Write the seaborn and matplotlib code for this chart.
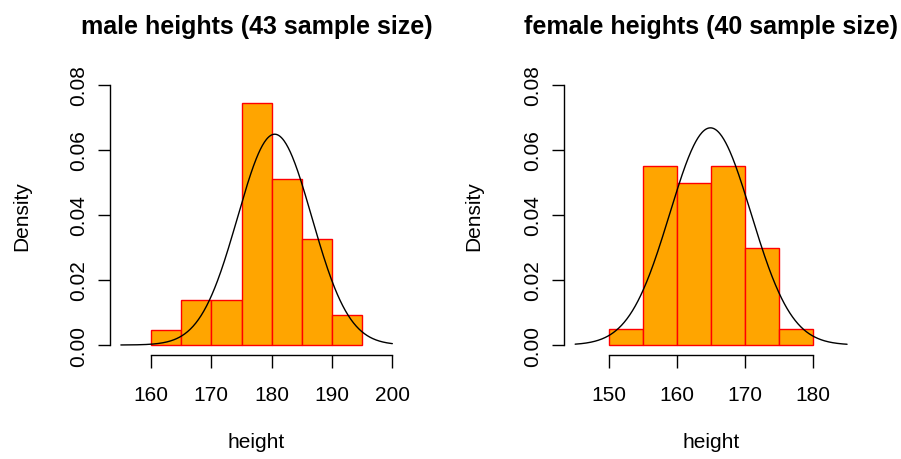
import numpy as np
import matplotlib
matplotlib.use("Agg")
import matplotlib.pyplot as plt
import seaborn as sns

sns.set_style("ticks")
plt.rcParams["font.family"] = ["Liberation Sans", "DejaVu Sans"]
plt.rcParams["text.color"] = "black"
plt.rcParams["axes.labelcolor"] = "black"
plt.rcParams["xtick.color"] = "black"
plt.rcParams["ytick.color"] = "black"

# histogram bins (width 5) and counts
male_edges = [160, 165, 170, 175, 180, 185, 190, 195]
male_counts = [1, 3, 3, 16, 11, 7, 2]
female_edges = [150, 155, 160, 165, 170, 175, 180]
female_counts = [1, 11, 10, 11, 6, 1]

# fitted normal curve parameters
male_mean, male_sd = 180.5, 6.15
female_mean, female_sd = 164.9, 5.97
male_curve_range = (155, 200)
female_curve_range = (145, 185)

male_xticks = [160, 170, 180, 190, 200]
female_xticks = [150, 160, 170, 180]
yticks = [0.00, 0.02, 0.04, 0.06, 0.08]

FS = 15


def draw_panel(ax, edges, counts, mean, sd, curve_range, xticks, title):
    centers = [(a + b) / 2 for a, b in zip(edges[:-1], edges[1:])]
    sns.histplot(
        x=centers,
        weights=counts,
        bins=edges,
        stat="density",
        color="orange",
        edgecolor="red",
        linewidth=1.0,
        alpha=1,
        ax=ax,
    )
    xs = np.linspace(curve_range[0], curve_range[1], 400)
    pdf = np.exp(-0.5 * ((xs - mean) / sd) ** 2) / (sd * np.sqrt(2 * np.pi))
    sns.lineplot(x=xs, y=pdf, color="black", linewidth=1.0, ax=ax)

    lo, hi = curve_range
    pad = 0.04 * (hi - lo)
    ax.set_xlim(lo - pad, hi + pad)
    ax.set_ylim(-0.0032, 0.0832)

    for s in ["top", "right"]:
        ax.spines[s].set_visible(False)
    ax.spines["left"].set_bounds(0, 0.08)
    ax.spines["bottom"].set_bounds(xticks[0], xticks[-1])
    for s in ["left", "bottom"]:
        ax.spines[s].set_linewidth(1.0)
        ax.spines[s].set_color("black")

    ax.set_xticks(xticks)
    ax.set_xticklabels([str(t) for t in xticks])
    ax.set_yticks(yticks)
    ax.set_yticklabels([f"{t:.2f}" for t in yticks], rotation=90, va="center")
    ax.tick_params(axis="x", length=9, width=1.0, pad=12, labelsize=FS,
                   color="black", labelcolor="black")
    ax.tick_params(axis="y", length=9, width=1.0, pad=7, labelsize=FS,
                   color="black", labelcolor="black")

    ax.set_xlabel("height", fontsize=FS, color="black")
    ax.set_ylabel("Density", fontsize=FS, color="black")
    ax.xaxis.set_label_coords(0.5, -0.308)
    ax.xaxis.label.set_va("center")
    ax.yaxis.set_label_coords(-0.30, 0.5)
    ax.yaxis.label.set_va("center")
    ax.set_title(title, fontsize=18, fontweight="bold", pad=30, color="black")
    ax.grid(False)


fig = plt.figure(figsize=(9.01, 4.60), dpi=100)
ax1 = fig.add_axes([0.1221, 0.2252, 0.3254, 0.6104])
ax2 = fig.add_axes([0.6263, 0.2252, 0.3259, 0.6104])

draw_panel(ax1, male_edges, male_counts, male_mean, male_sd,
           male_curve_range, male_xticks, "male heights (43 sample size)")
draw_panel(ax2, female_edges, female_counts, female_mean, female_sd,
           female_curve_range, female_xticks, "female heights (40 sample size)")
ax2.yaxis.set_label_coords(-0.307, 0.5)

fig.savefig("out.png", dpi=100)
